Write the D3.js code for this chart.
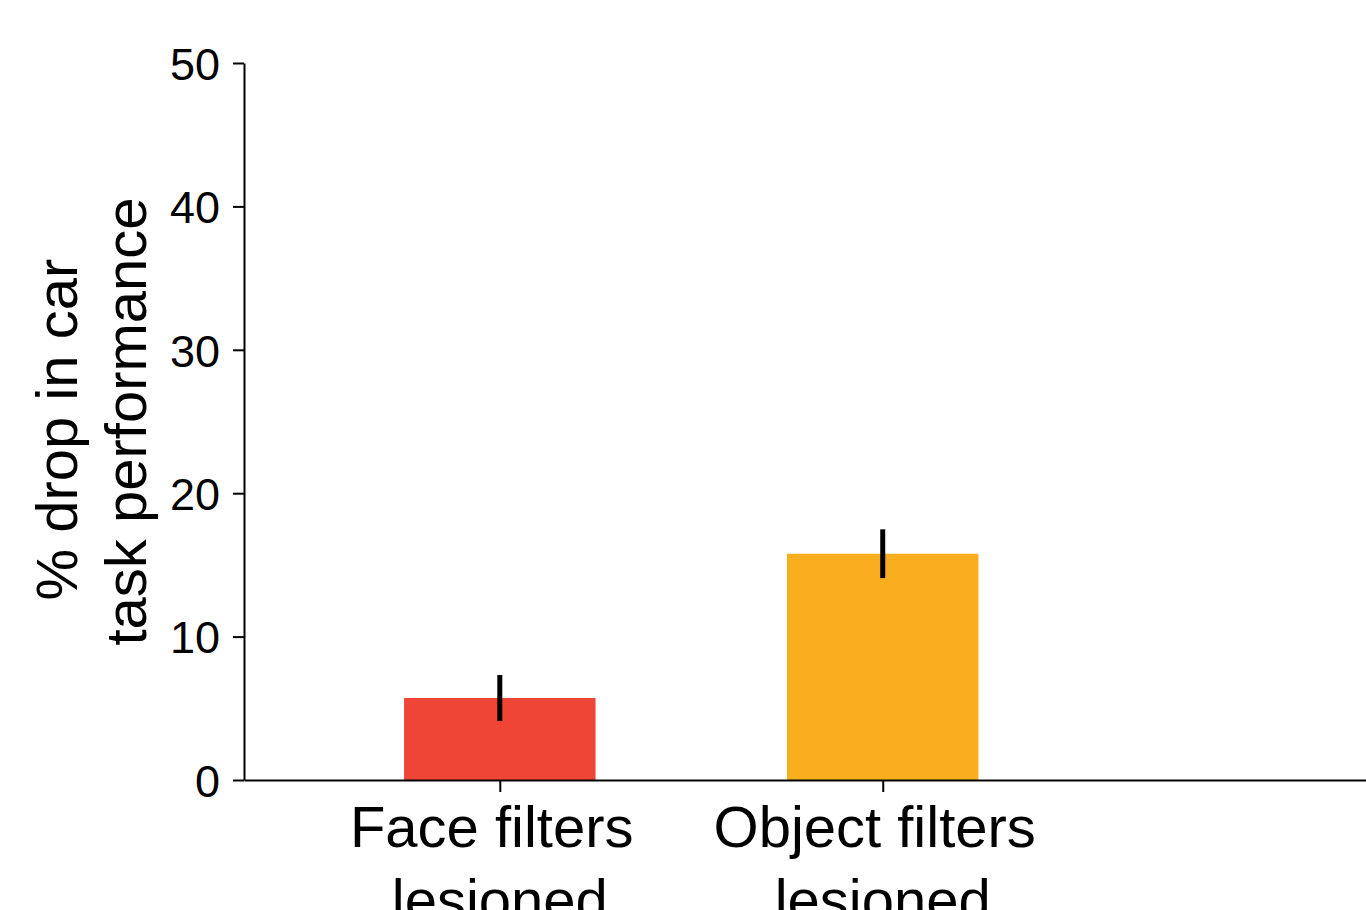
<!DOCTYPE html>
<html>
<head>
<meta charset="utf-8">
<script src="https://cdn.jsdelivr.net/npm/d3@7"></script>
<style>
  html, body { margin: 0; padding: 0; background: #fff; }
  svg { display: block; font-family: "Liberation Sans", Arial, Helvetica, sans-serif; }
</style>
</head>
<body>
<svg id="chart" width="1366" height="910"></svg>
<script>
// Bar categories (two-line tick labels; first line keeps its trailing space)
const categories = [["Face filters\u00a0", "lesioned"], ["Object filters\u00a0", "lesioned"]];
// Mean % drop in car task performance
const meanDrop = [5.72, 15.78];
// Error bar half-lengths
const errDrop = [1.6, 1.7];
const barColors = ["#EF4537", "#F8AE1F"];
const yTicks = [0, 10, 20, 30, 40, 50];
const yLabelLines = ["% drop in car\u00a0", "task performance"];

const svg = d3.select("#chart");

const x = d3.scaleLinear().domain([-0.668, 2.262]).range([244, 1366]);
const y = d3.scaleLinear().domain([0, 50]).range([780, 63]);
const barWidth = 0.5;

// Bars
svg.append("g").selectAll("rect")
  .data(meanDrop)
  .join("rect")
  .attr("x", (d, i) => x(i - barWidth / 2))
  .attr("width", (d, i) => x(i + barWidth / 2) - x(i - barWidth / 2))
  .attr("y", d => y(d))
  .attr("height", d => y(0) - y(d))
  .attr("fill", (d, i) => barColors[i]);

// Error bars
svg.append("g").selectAll("line")
  .data(meanDrop)
  .join("line")
  .attr("x1", (d, i) => x(i))
  .attr("x2", (d, i) => x(i))
  .attr("y1", (d, i) => y(d - errDrop[i]))
  .attr("y2", (d, i) => y(d + errDrop[i]))
  .attr("stroke", "#000")
  .attr("stroke-width", 5);

// Y axis
const yAxis = svg.append("g")
  .attr("transform", `translate(${x.range()[0]},0)`)
  .call(d3.axisLeft(y).tickValues(yTicks).tickSize(11).tickSizeOuter(0).tickPadding(13));
yAxis.select(".domain").attr("stroke-width", 2);
yAxis.selectAll(".tick line").attr("stroke-width", 2);
yAxis.selectAll(".tick text")
  .attr("font-size", 45)
  .attr("fill", "#000")
  .attr("font-family", "Liberation Sans, Arial, sans-serif")
  .attr("dy", "0.36em");

// X axis
const xAxis = svg.append("g")
  .attr("transform", `translate(0,${y(0)})`)
  .call(d3.axisBottom(x).tickValues(d3.range(categories.length)).tickSize(12).tickSizeOuter(0).tickFormat(() => ""));
xAxis.select(".domain").attr("stroke-width", 2);
xAxis.selectAll(".tick line").attr("stroke-width", 2);

// X tick labels, two lines each
const xLabels = svg.append("g").selectAll("text")
  .data(categories)
  .join("text")
  .attr("text-anchor", "middle")
  .attr("font-size", 58)
  .attr("fill", "#000");
xLabels.selectAll("tspan")
  .data((d, i) => d.map((t, j) => ({ t, j, i })))
  .join("tspan")
  .attr("x", d => x(d.i))
  .attr("y", d => 847 + d.j * 73)
  .text(d => d.t);

// Y axis title, rotated, two lines
const yMid = (y(0) + y(50)) / 2;
svg.append("g").selectAll("text")
  .data(yLabelLines)
  .join("text")
  .attr("transform", (d, j) => `translate(${77 + j * 69},${yMid}) rotate(-90)`)
  .attr("text-anchor", "middle")
  .attr("font-size", 58)
  .attr("fill", "#000")
  .text(d => d);
</script>
</body>
</html>
